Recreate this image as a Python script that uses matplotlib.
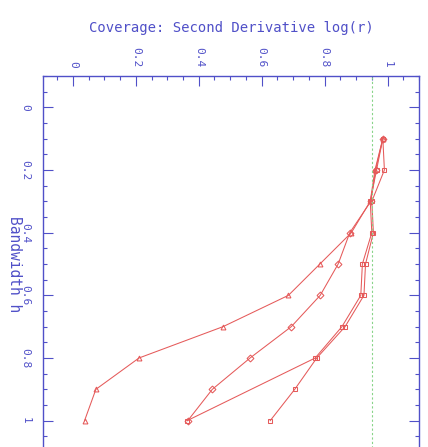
import matplotlib
matplotlib.use("Agg")
import matplotlib.pyplot as plt
from matplotlib.ticker import MultipleLocator

plt.rcParams["font.family"] = ["DejaVu Sans Mono"]

# bandwidth grid and coverage for each curve
bandwidth = [0.1, 0.2, 0.3, 0.4, 0.5, 0.6, 0.7, 0.8, 0.9, 1.0]
bandwidth_c = [0.1, 0.2, 0.3, 0.4, 0.5, 0.6, 0.7, 0.8, 1.0]
cov_a = [0.985, 0.96, 0.945, 0.885, 0.785, 0.685, 0.477, 0.21, 0.073, 0.037]
cov_b = [0.985, 0.962, 0.947, 0.88, 0.843, 0.786, 0.694, 0.563, 0.443, 0.365]
cov_c = [0.985, 0.965, 0.945, 0.95, 0.92, 0.915, 0.855, 0.77, 0.363]
cov_d = [0.985, 0.99, 0.95, 0.955, 0.93, 0.925, 0.865, 0.775, 0.705, 0.627]
nominal = 0.95

blue = "#5050c8"
red = "#e55a5a"

fig = plt.figure(figsize=(4.28, 4.47), dpi=100)
ax = fig.add_axes([0.1005, -0.0112, 0.8785, 0.8412])

series = [(bandwidth, cov_a, "^"), (bandwidth, cov_b, "D"),
          (bandwidth_c, cov_c, "s"), (bandwidth, cov_d, "s")]
for h, cov, mk in series:
    ax.plot(cov, h, color=red, lw=0.75, marker=mk, ms=3.5,
            mfc="none", mec=red, mew=0.75)

ax.axvline(nominal, color="#88d488", lw=0.8, ls=(0, (2, 2)))

ax.set_xlim(-0.095, 1.1)
ax.set_ylim(1.1, -0.1)

ax.xaxis.set_major_locator(MultipleLocator(0.2))
ax.xaxis.set_minor_locator(MultipleLocator(0.05))
ax.yaxis.set_major_locator(MultipleLocator(0.2))
ax.yaxis.set_minor_locator(MultipleLocator(0.05))
ax.xaxis.tick_top()
ax.tick_params(which="both", direction="in", color=blue, labelcolor=blue,
               top=True, right=True, bottom=False, left=True, labelsize=8)
ax.tick_params(which="major", length=7, width=0.8)
ax.tick_params(which="minor", length=3, width=0.8)
ax.xaxis.set_major_formatter(plt.FuncFormatter(lambda v, p: f"{v:g}"))
ax.yaxis.set_major_formatter(plt.FuncFormatter(lambda v, p: f"{v:g}"))
for lab in ax.get_xticklabels():
    lab.set_rotation(-90)
for lab in ax.get_yticklabels():
    lab.set_rotation(-90)
    lab.set_va("center")
ax.tick_params(axis="x", pad=6)
ax.tick_params(axis="y", pad=9)

for s in ax.spines.values():
    s.set_color(blue)
    s.set_linewidth(1.0)

ax.set_ylabel("Bandwidth h", color=blue, fontsize=10.5, rotation=-90,
              labelpad=10, va="bottom")
fig.text(0.54, 0.937, "Coverage: Second Derivative log(r)", color=blue,
         fontsize=10, ha="center", va="center")

fig.savefig("out.png", dpi=100)
